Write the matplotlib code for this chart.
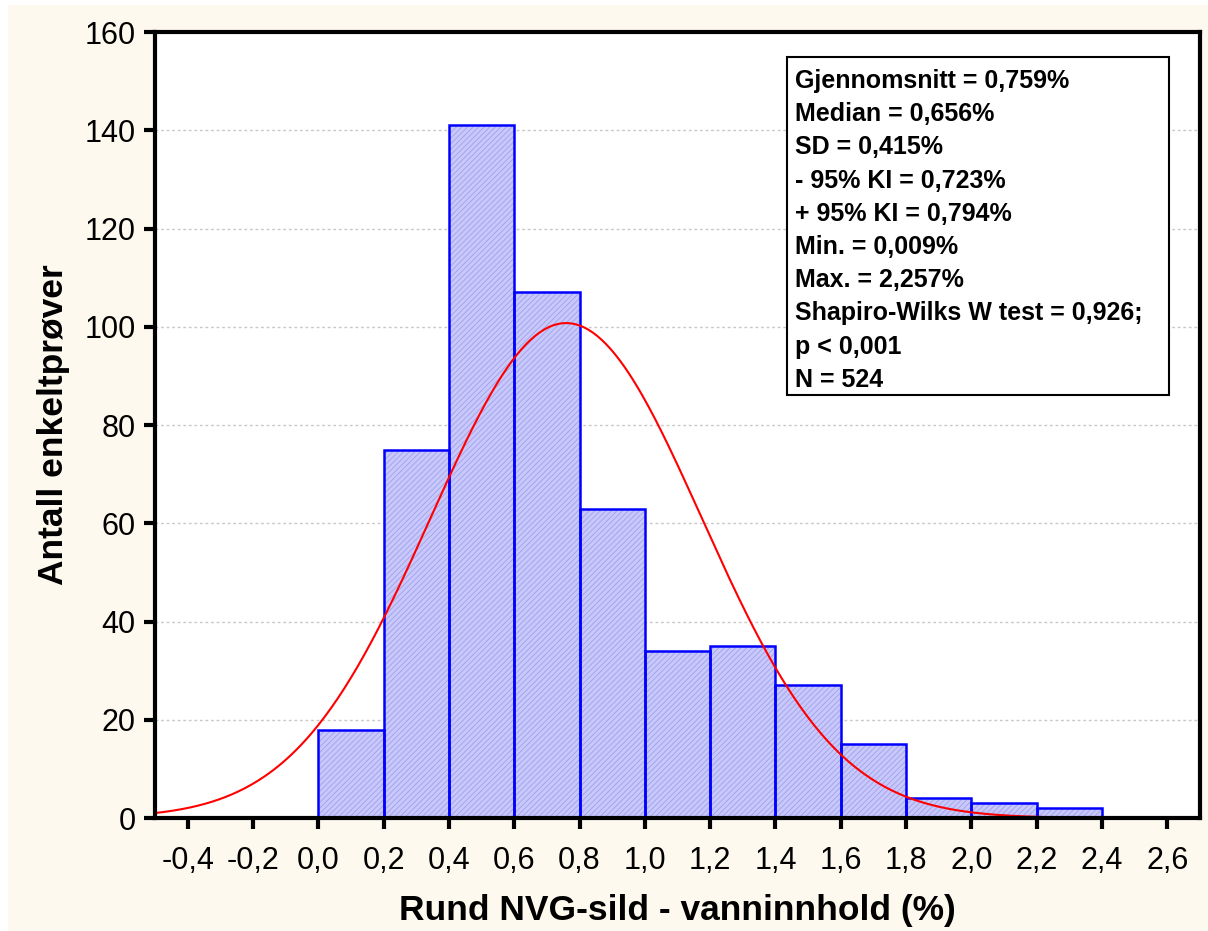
import numpy as np
import matplotlib
matplotlib.use("Agg")
import matplotlib.pyplot as plt
from matplotlib.patches import Rectangle

# Data
bin_left = [0.0, 0.2, 0.4, 0.6, 0.8, 1.0, 1.2, 1.4, 1.6, 1.8, 2.0, 2.2]
counts = [18, 75, 141, 107, 63, 34, 35, 27, 15, 4, 3, 2]
bin_width = 0.2
mean_val = 0.759
sd_val = 0.415
min_val = 0.009
max_val = 2.257
n_total = 524
xticks = [-0.4, -0.2, 0.0, 0.2, 0.4, 0.6, 0.8, 1.0, 1.2, 1.4, 1.6, 1.8, 2.0, 2.2, 2.4, 2.6]
yticks = [0, 20, 40, 60, 80, 100, 120, 140, 160]
stats_lines = [
    "Gjennomsnitt = 0,759%",
    "Median = 0,656%",
    "SD = 0,415%",
    "- 95% KI = 0,723%",
    "+ 95% KI = 0,794%",
    "Min. = 0,009%",
    "Max. = 2,257%",
    "Shapiro-Wilks W test = 0,926;",
    "p < 0,001",
    "N = 524",
]

plt.rcParams['font.family'] = ['Liberation Sans', 'DejaVu Sans']
plt.rcParams['hatch.linewidth'] = 0.6

fig = plt.figure(figsize=(12.08, 9.31), dpi=100, facecolor='white')
fig.patches.append(Rectangle((8 / 1208, 0), 1, 1 - 5 / 931, transform=fig.transFigure,
                             facecolor='#fdf9ee', edgecolor='none', zorder=-10))
ax = fig.add_axes([155 / 1208, 1 - 818 / 931, (1200 - 155) / 1208, (818 - 32) / 931])
ax.set_facecolor('white')

# grid
for y in yticks[1:-1]:
    ax.axhline(y, color='#c8c8c8', lw=1.0, ls=(0, (2, 2)), zorder=0)

ax.bar(bin_left, counts, width=bin_width, align='edge', facecolor='#c8c8fa',
       edgecolor='#a0a0f0', linewidth=0, hatch='//////', zorder=2)
ax.bar(bin_left, counts, width=bin_width, align='edge', fill=False,
       edgecolor='#0000ff', linewidth=1.8, zorder=3)

# fitted normal curve
xs = np.linspace(-0.5, 2.23, 400)
ys = n_total * bin_width / (sd_val * np.sqrt(2 * np.pi)) * np.exp(-0.5 * ((xs - mean_val) / sd_val) ** 2)
ax.plot(xs, ys, color='#ff0000', lw=1.5, zorder=4)

ax.set_xlim(-0.5, 2.7)
ax.set_ylim(0, 160)
ax.set_xticks(xticks)
ax.set_xticklabels([f"{t:.1f}".replace('.', ',') for t in xticks])
ax.set_yticks(yticks)
ax.set_yticklabels([str(t) for t in yticks])
ax.tick_params(axis='both', direction='out', length=8, width=3, labelsize=22, color='black')
ax.tick_params(axis='x', pad=12)
ax.tick_params(axis='y', pad=6)
for s in ax.spines.values():
    s.set_linewidth(3)
    s.set_color('black')
    s.set_zorder(5)

ax.set_xlabel("Rund NVG-sild - vanninnhold (%)", fontsize=25.5, fontweight='bold', labelpad=13)
ax.set_ylabel("Antall enkeltprøver", fontsize=25.5, fontweight='bold', labelpad=10)

# stats box
bx0, by0 = 787, 57
bx1, by1 = 1169, 395
box = Rectangle((bx0 / 1208, 1 - by1 / 931), (bx1 - bx0) / 1208, (by1 - by0) / 931,
                transform=fig.transFigure, facecolor='white', edgecolor='black', lw=1.5, zorder=10)
fig.patches.append(box)
for i, line in enumerate(stats_lines):
    fig.text(795 / 1208, 1 - (81 + i * 33.2) / 931, line, fontsize=18, fontweight='bold',
             ha='left', va='center', zorder=11)

fig.savefig('out.png', dpi=100, facecolor=fig.get_facecolor())
